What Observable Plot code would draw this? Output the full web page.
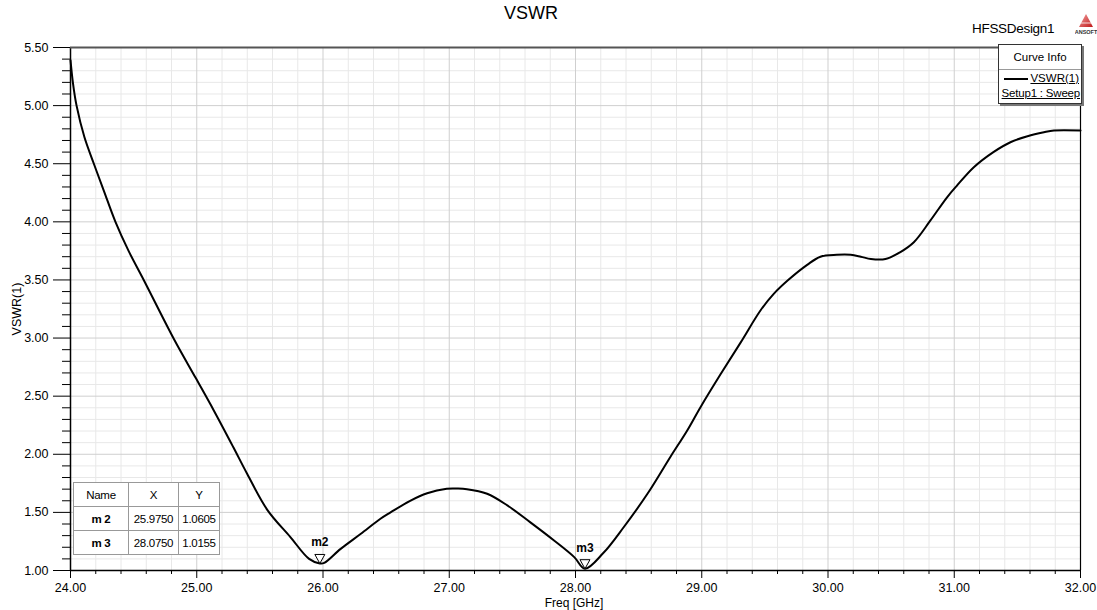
<!DOCTYPE html>
<html>
<head>
<meta charset="utf-8">
<script src="https://cdn.jsdelivr.net/npm/d3@7"></script>
<script src="https://cdn.jsdelivr.net/npm/@observablehq/plot@0.6"></script>
<style>
  html, body { margin: 0; padding: 0; background: #fff; }
  #wrap { position: relative; width: 1097px; height: 610px; font-family: 'Liberation Sans', Arial, sans-serif; color: #000; overflow: hidden; }
  #wrap svg.plot { position: absolute; left: 0; top: 0; }
  .abs { position: absolute; white-space: nowrap; }
  #mtable { position: absolute; left: 73px; top: 482px; border-collapse: collapse; background: #fff; font-size: 11.5px; border: 1.5px solid #444; }
  #mtable td { border: 1px solid #999; height: 23px; padding: 0 3px; text-align: center; letter-spacing: -0.3px; }
  #legend { position: absolute; left: 998px; top: 44px; width: 82px; height: 58px; border: 1px solid #333; background: #fff; box-shadow: 2px 2px 0 #777; font-size: 11.5px; }
</style>
</head>
<body>
<div id="wrap"></div>
<script>
// ---- data ----
const freqGHz = [24.00, 24.02, 24.048, 24.11, 24.185, 24.265, 24.356, 24.46, 24.58, 24.82, 24.99,
  25.135, 25.29, 25.40, 25.56, 25.74, 25.89, 25.975, 26.01, 26.14, 26.30,
  26.455, 26.535, 26.69, 26.825, 26.98, 27.06, 27.14, 27.30, 27.46, 27.64,
  27.83, 27.99, 28.075, 28.22, 28.38, 28.57, 28.75, 28.885, 28.99, 29.15,
  29.31, 29.465, 29.57, 29.68, 29.835, 29.94, 30.07, 30.18, 30.26, 30.34,
  30.455, 30.57, 30.68, 30.81, 30.94, 31.02, 31.155, 31.31, 31.445, 31.58,
  31.71, 31.79, 32.00];
const vswrValues = [5.39, 5.19, 5.00, 4.73, 4.50, 4.265, 4.00, 3.75, 3.50, 2.99, 2.66,
  2.377, 2.06, 1.83, 1.52, 1.29, 1.10, 1.0605, 1.065, 1.186, 1.316,
  1.445, 1.50, 1.60, 1.665, 1.703, 1.705, 1.70, 1.66, 1.56, 1.416,
  1.258, 1.115, 1.0155, 1.15, 1.37, 1.66, 1.975, 2.205, 2.405, 2.69,
  2.965, 3.237, 3.38, 3.495, 3.63, 3.70, 3.716, 3.716, 3.70, 3.68,
  3.68, 3.738, 3.825, 4.01, 4.207, 4.31, 4.47, 4.60, 4.685, 4.737,
  4.771, 4.786, 4.786];

const markerNames = ["m2", "m3"];
const markerX = [25.9750, 28.0750];
const markerY = [1.0605, 1.0155];

const xTickValues = [24, 25, 26, 27, 28, 29, 30, 31, 32];
const yTickValues = [1.0, 1.5, 2.0, 2.5, 3.0, 3.5, 4.0, 4.5, 5.0, 5.5];

const titleText = "VSWR";
const designName = "HFSSDesign1";
const xLabel = "Freq [GHz]";
const yLabel = "VSWR(1)";
const legendEntry = "VSWR(1)";
const legendSetup = "Setup1 : Sweep";

// ---- build ----
const data = freqGHz.map((f, i) => ({f, v: vswrValues[i]}));
const markers = markerNames.map((n, i) => ({name: n, x: markerX[i], y: markerY[i]}));
const xMinor = d3.range(24, 32.0001, 0.2).map(d => +d.toFixed(2)).filter(d => !xTickValues.includes(d));
const yMinor = d3.range(1, 5.5001, 0.1).map(d => +d.toFixed(2)).filter(d => !yTickValues.some(t => Math.abs(t - d) < 1e-6));

const downTriangle = {
  draw(context, size) {
    const s = Math.sqrt(size / Math.PI);
    context.moveTo(0, 0);
    context.lineTo(-s, -1.8 * s);
    context.lineTo(s, -1.8 * s);
    context.closePath();
  }
};

const chart = Plot.plot({
  width: 1097,
  height: 610,
  marginLeft: 70,
  marginRight: 17,
  marginTop: 47,
  marginBottom: 40,
  x: {domain: [24, 32]},
  y: {domain: [1, 5.5]},
  style: {fontFamily: "'Liberation Sans', Arial, sans-serif", fontSize: "12.5px", color: "#000", background: "transparent", overflow: "visible"},
  marks: [
    Plot.gridX(xMinor, {stroke: "#e8e8e8", strokeOpacity: 1, strokeWidth: 1}),
    Plot.gridY(yMinor, {stroke: "#e8e8e8", strokeOpacity: 1, strokeWidth: 1}),
    Plot.gridX(xTickValues, {stroke: "#cfcfcf", strokeOpacity: 1, strokeWidth: 1}),
    Plot.gridY(yTickValues, {stroke: "#cfcfcf", strokeOpacity: 1, strokeWidth: 1}),
    Plot.line(data, {x: "f", y: "v", stroke: "#000", strokeWidth: 2, curve: "catmull-rom"}),
    Plot.ruleX([24], {stroke: "#000", strokeWidth: 1.5}),
    Plot.ruleX([32], {stroke: "#000", strokeWidth: 1.2}),
    Plot.ruleY([1], {stroke: "#000", strokeWidth: 1.5}),
    Plot.ruleY([5.5], {stroke: "#555", strokeWidth: 2}),
    Plot.axisY(yTickValues, {tickSize: 17, tickPadding: 5, tickFormat: d3.format(".2f"), label: null}),
    Plot.axisY(yMinor, {tickSize: 8, tickFormat: () => "", label: null}),
    Plot.axisX(xTickValues, {tickSize: 8, tickPadding: 5, tickFormat: d3.format(".2f"), label: null}),
    Plot.axisX(xMinor, {tickSize: 4, tickFormat: () => "", label: null}),
    Plot.dot(markers, {x: "x", y: "y", symbol: downTriangle, r: 5, fill: "#fff", stroke: "#000", strokeWidth: 1}),
    Plot.text(markers, {x: "x", y: "y", text: "name", dy: -21, fontWeight: "bold", fontSize: 12})
  ]
});
chart.classList.add("plot");
const wrap = document.getElementById("wrap");
wrap.appendChild(chart);

function addDiv(html, style) {
  const d = document.createElement("div");
  d.className = "abs";
  d.innerHTML = html;
  Object.assign(d.style, style);
  wrap.appendChild(d);
  return d;
}

// title
addDiv(titleText, {left: "531px", top: "13px", transform: "translate(-50%,-50%)", fontSize: "18px"});
// design name
addDiv(designName, {left: "972px", top: "28px", transform: "translateY(-50%)", fontSize: "13.5px", letterSpacing: "-0.3px"});
// ANSOFT logo
addDiv(`<svg width="22" height="24" viewBox="0 0 22 24">
  <defs><linearGradient id="lg" x1="0" y1="0" x2="1" y2="1"><stop offset="0" stop-color="#f3a0a0"/><stop offset="1" stop-color="#c01818"/></linearGradient></defs>
  <polygon points="11,2 18,15 4,15" fill="url(#lg)"/>
  <line x1="6" y1="11" x2="16" y2="11" stroke="#fff" stroke-width="0.8"/>
  <text x="11" y="22" text-anchor="middle" font-size="5.5" font-weight="bold" font-family="Liberation Sans, Arial" fill="#333">ANSOFT</text>
</svg>`, {left: "1075px", top: "12px"});
// axis labels
addDiv(xLabel, {left: "574px", top: "603px", transform: "translate(-50%,-50%)", fontSize: "12px"});
addDiv(yLabel, {left: "17px", top: "309px", transform: "translate(-50%,-50%) rotate(-90deg)", fontSize: "12.5px"});

// legend box
const legend = document.createElement("div");
legend.id = "legend";
legend.innerHTML = `
  <div style="height:24px;line-height:24px;text-align:center;border-bottom:1px solid #999;">Curve Info</div>
  <div style="position:relative;height:17px;">
    <div style="position:absolute;left:5px;top:8px;width:24px;height:2px;background:#000;"></div>
    <div style="position:absolute;right:2px;top:2px;text-decoration:underline;">${legendEntry}</div>
  </div>
  <div style="text-align:right;padding-right:1px;text-decoration:underline;letter-spacing:-0.2px;">${legendSetup}</div>`;
wrap.appendChild(legend);

// marker table
const table = document.createElement("table");
table.id = "mtable";
let rows = `<tr><td style="width:48px">Name</td><td style="width:43px">X</td><td style="width:34px">Y</td></tr>`;
markers.forEach(m => {
  rows += `<tr><td style="font-weight:bold">${m.name.replace("m", "m ")}</td><td>${m.x.toFixed(4)}</td><td>${m.y.toFixed(4)}</td></tr>`;
});
table.innerHTML = rows;
wrap.appendChild(table);
</script>
</body>
</html>
